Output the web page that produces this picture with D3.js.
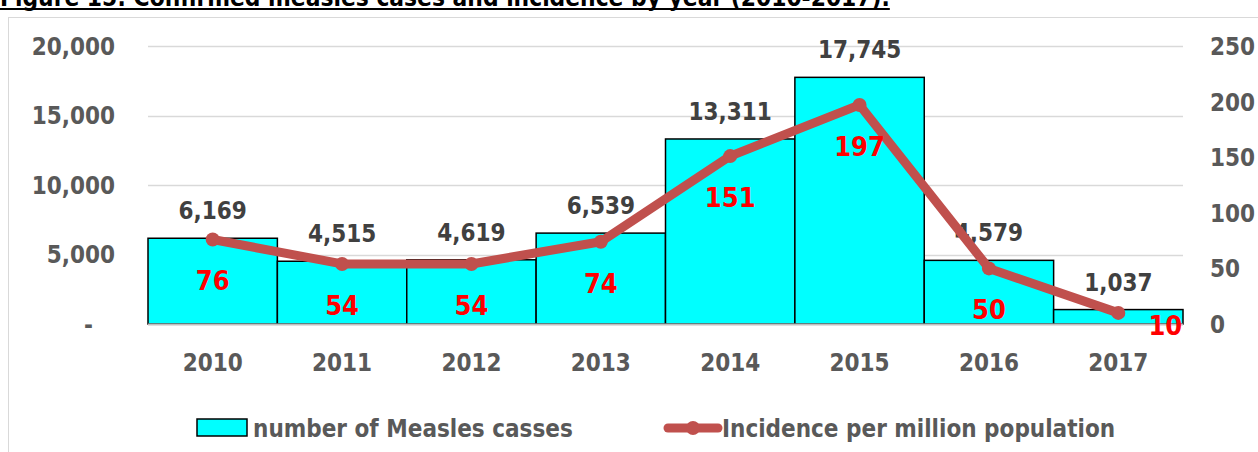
<!DOCTYPE html>
<html><head><meta charset="utf-8">
<script src="https://cdn.jsdelivr.net/npm/d3@7/dist/d3.min.js"></script>
<style>
html,body{margin:0;padding:0;background:#fff;}
svg text{font-family:"Liberation Sans Narrow","DejaVu Sans Condensed","Arial Narrow",sans-serif;font-weight:bold;}
</style></head>
<body><svg id="c" width="1258" height="452"></svg>
<script>
const years = ["2010","2011","2012","2013","2014","2015","2016","2017"];
const cases = [6169,4515,4619,6539,13311,17745,4579,1037];
const incidence = [76,54,54,74,151,197,50,10];
const leftTicks = [0,5000,10000,15000,20000];
const rightTicks = [0,50,100,150,200,250];
const titleText = "Figure 15: Confirmed measles cases and incidence by year (2010-2017).";
const legendBars = "number of Measles casses";
const legendLine = "Incidence per million population";

const svg = d3.select("#c");
const m = {l:148, r:1183, t:46, b:324};
const x = d3.scaleBand().domain(years).range([m.l, m.r]).padding(0);
const yL = d3.scaleLinear().domain([0,20000]).range([m.b, m.t]);
const yR = d3.scaleLinear().domain([0,250]).range([m.b, m.t]);
const FS = 24;

// frame
svg.append("rect").attr("x",8.5).attr("y",17.5).attr("width",1270).attr("height",460)
  .attr("fill","none").attr("stroke","#d9d9d9").attr("stroke-width",1);

// title
const tt = svg.append("text").attr("x",0).attr("y",6).attr("font-size",24.3).attr("fill","#000")
  .text(titleText);
const tw = tt.node().getComputedTextLength();
svg.append("line").attr("x1",0).attr("x2",tw).attr("y1",9).attr("y2",9).attr("stroke","#000").attr("stroke-width",2);

// gridlines
svg.append("g").selectAll("line").data(leftTicks.slice(1)).join("line")
  .attr("x1",m.l).attr("x2",m.r).attr("y1",d=>Math.round(yL(d))+0.5).attr("y2",d=>Math.round(yL(d))+0.5)
  .attr("stroke","#d9d9d9").attr("stroke-width",1.5);

// left axis
const axL = d3.axisLeft(yL).tickValues(leftTicks).tickSize(0).tickPadding(0)
  .tickFormat(d=> d===0 ? "-" : d3.format(",")(d));
const gL = svg.append("g").attr("transform",`translate(115,0)`).call(axL);
gL.select(".domain").remove();
gL.selectAll("text").attr("font-size",FS).attr("fill","#595959").attr("dy","0.35em")
  .attr("font-family",null);
gL.selectAll(".tick").filter(d=>d===0).select("text").attr("transform","translate(-22,0)");

// right axis
const axR = d3.axisRight(yR).tickValues(rightTicks).tickSize(0).tickPadding(0);
const gR = svg.append("g").attr("transform",`translate(1210,0)`).call(axR);
gR.select(".domain").remove();
gR.selectAll("text").attr("font-size",FS).attr("fill","#595959").attr("dy","0.35em")
  .attr("font-family",null);

// bars
svg.append("g").selectAll("rect").data(years).join("rect")
  .attr("x",d=>x(d)).attr("width",x.bandwidth())
  .attr("y",(d,i)=>yL(cases[i])).attr("height",(d,i)=>m.b - yL(cases[i]))
  .attr("fill","#00FFFF").attr("stroke","#000").attr("stroke-width",1.5);

// baseline
svg.append("line").attr("x1",m.l).attr("x2",m.r).attr("y1",m.b+0.5).attr("y2",m.b+0.5)
  .attr("stroke","#bfbfbf").attr("stroke-width",2);

// x axis
const axX = d3.axisBottom(x).tickSize(0).tickPadding(0);
const gX = svg.append("g").attr("transform",`translate(0,${m.b})`).call(axX);
gX.select(".domain").remove();
gX.selectAll("text").attr("font-size",FS).attr("fill","#595959").attr("dy","1.95em")
  .attr("font-family",null);

// bar labels
svg.append("g").selectAll("text").data(years).join("text")
  .attr("x",d=>x(d)+x.bandwidth()/2).attr("y",(d,i)=>yL(cases[i]) - 19)
  .attr("text-anchor","middle").attr("font-size",FS).attr("fill","#404040")
  .text((d,i)=>d3.format(",")(cases[i]));

// line
const line = d3.line().x((d,i)=>x(years[i])+x.bandwidth()/2).y(d=>yR(d));
svg.append("path").datum(incidence).attr("d",line).attr("fill","none")
  .attr("stroke","#C0504D").attr("stroke-width",9).attr("stroke-linejoin","round").attr("stroke-linecap","round");
svg.append("g").selectAll("circle").data(incidence).join("circle")
  .attr("cx",(d,i)=>x(years[i])+x.bandwidth()/2).attr("cy",d=>yR(d)).attr("r",7)
  .attr("fill","#C0504D");

// incidence labels
svg.append("g").selectAll("text").data(incidence).join("text")
  .attr("x",(d,i)=>x(years[i])+x.bandwidth()/2 + (i===incidence.length-1 ? 47 : 0))
  .attr("y",(d,i)=>yR(d) + (i===incidence.length-1 ? 22 : 51))
  .attr("text-anchor","middle").attr("font-size",27).attr("fill","#FF0000")
  .text(d=>d);

// legend
const lg = svg.append("g");
lg.append("rect").attr("x",197).attr("y",419).attr("width",50).attr("height",17)
  .attr("fill","#00FFFF").attr("stroke","#000").attr("stroke-width",1.5);
lg.append("text").attr("x",253).attr("y",437).attr("font-size",FS).attr("fill","#595959").text(legendBars);
lg.append("line").attr("x1",668).attr("x2",718).attr("y1",428).attr("y2",428)
  .attr("stroke","#C0504D").attr("stroke-width",9).attr("stroke-linecap","round");
lg.append("circle").attr("cx",693).attr("cy",428).attr("r",7).attr("fill","#C0504D");
lg.append("text").attr("x",722).attr("y",437).attr("font-size",FS).attr("fill","#595959").text(legendLine);
</script></body></html>
